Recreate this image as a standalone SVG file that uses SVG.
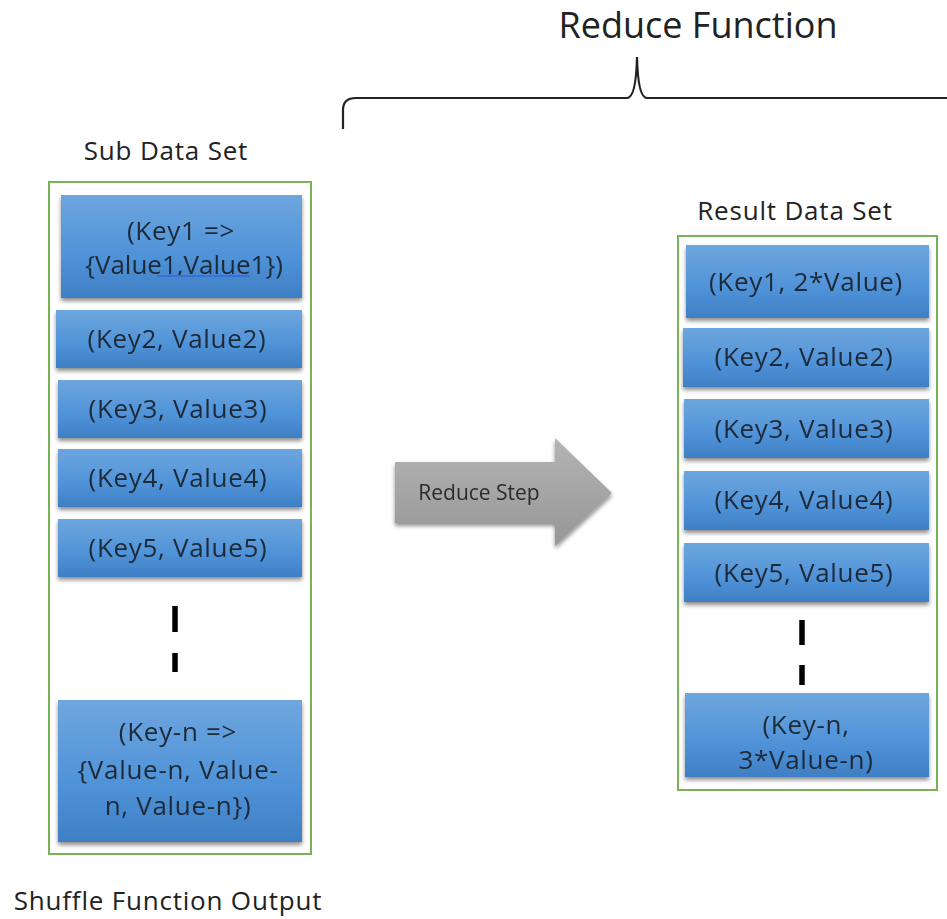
<svg xmlns="http://www.w3.org/2000/svg" width="947" height="919" viewBox="0 0 947 919">
<style>
text{font-family:"Open Sans","DejaVu Sans",sans-serif;fill:#1e2a38;text-anchor:middle}
.lbl{font-size:26px;fill:#222;letter-spacing:0.8px}
.bx{font-size:26px;letter-spacing:0.7px}
.box{fill:url(#blue)}
.cont{fill:none;stroke:#77b255;stroke-width:2}
.dash{stroke:#000;stroke-width:5.5}
</style>
<defs>
<linearGradient id="blue" x1="0" y1="0" x2="0" y2="1">
<stop offset="0" stop-color="#6ea6de"/>
<stop offset="0.6" stop-color="#4f92d8"/>
<stop offset="1" stop-color="#3f7fc4"/>
</linearGradient>
<linearGradient id="gray" x1="0" y1="0" x2="0" y2="1">
<stop offset="0" stop-color="#b4b4b4"/>
<stop offset="1" stop-color="#969696"/>
</linearGradient>
<filter id="sh" x="-10%" y="-10%" width="120%" height="130%">
<feGaussianBlur in="SourceAlpha" stdDeviation="2"/>
<feOffset dx="0" dy="3" result="b"/>
<feComponentTransfer><feFuncA type="linear" slope="0.45"/></feComponentTransfer>
<feMerge><feMergeNode/><feMergeNode in="SourceGraphic"/></feMerge>
</filter>
</defs>
<rect width="947" height="919" fill="#fff"/>

<g id="title">
<text x="698" y="38" style="font-size:36px;fill:#222">Reduce Function</text>
<path d="M343,129 L343,110 Q343,98 356,98 L627,98 Q636,98 637,57 Q638,98 647,98 L947,98" fill="none" stroke="#222" stroke-width="2.2"/>
</g>

<g id="sub-data-set">
<text class="lbl" x="166" y="160">Sub Data Set</text>
<rect class="cont" x="49" y="182" width="262" height="672"/>
</g>
<g id="s1" filter="url(#sh)">
<rect class="box" x="61" y="195" width="241" height="103"/>
<text class="bx" x="181" y="240">(Key1 =&gt;</text>
<text class="bx" x="184" y="274" style="letter-spacing:0">{Value1,Value1})</text>
<line x1="157" y1="276" x2="250" y2="276" stroke="#3a6fd8" stroke-width="2"/>
</g>
<g id="s2" filter="url(#sh)"><rect class="box" x="56" y="310" width="246" height="58"/><text class="bx" x="177" y="348">(Key2, Value2)</text></g>
<g id="s3" filter="url(#sh)"><rect class="box" x="58" y="380" width="244" height="58"/><text class="bx" x="178" y="418">(Key3, Value3)</text></g>
<g id="s4" filter="url(#sh)"><rect class="box" x="58" y="449" width="244" height="58"/><text class="bx" x="178" y="487">(Key4, Value4)</text></g>
<g id="s5" filter="url(#sh)"><rect class="box" x="58" y="519" width="244" height="58"/><text class="bx" x="178" y="557">(Key5, Value5)</text></g>
<g id="s-dots"><line class="dash" x1="175" y1="606" x2="175" y2="632"/><line class="dash" x1="175" y1="653" x2="175" y2="672"/></g>
<g id="sn" filter="url(#sh)">
<rect class="box" x="58" y="700" width="244" height="142"/>
<text class="bx" x="178" y="741">(Key-n =&gt;</text>
<text class="bx" x="178" y="779">{Value-n, Value-</text>
<text class="bx" x="178" y="815">n, Value-n})</text>
</g>
<g id="shuffle-label"><text class="lbl" x="168" y="910">Shuffle Function Output</text></g>

<g id="reduce-step" filter="url(#sh)">
<path d="M395,462 L555,462 L555,438 L612,493 L555,546 L555,523 L395,523 Z" fill="url(#gray)"/>
<text x="479" y="500" style="font-size:21px;fill:#2a2a2a">Reduce Step</text>
</g>

<g id="result-data-set">
<text class="lbl" x="795" y="220">Result Data Set</text>
<rect class="cont" x="678" y="236" width="259" height="554"/>
</g>
<g id="r1" filter="url(#sh)"><rect class="box" x="686" y="245" width="243" height="73"/><text class="bx" x="806" y="291">(Key1, 2*Value)</text></g>
<g id="r2" filter="url(#sh)"><rect class="box" x="683" y="328" width="246" height="59"/><text class="bx" x="804" y="366">(Key2, Value2)</text></g>
<g id="r3" filter="url(#sh)"><rect class="box" x="684" y="399" width="245" height="59"/><text class="bx" x="804" y="438">(Key3, Value3)</text></g>
<g id="r4" filter="url(#sh)"><rect class="box" x="684" y="471" width="245" height="59"/><text class="bx" x="804" y="509">(Key4, Value4)</text></g>
<g id="r5" filter="url(#sh)"><rect class="box" x="684" y="543" width="245" height="59"/><text class="bx" x="804" y="582">(Key5, Value5)</text></g>
<g id="r-dots"><line class="dash" x1="802" y1="620" x2="802" y2="645"/><line class="dash" x1="802" y1="665" x2="802" y2="685"/></g>
<g id="rn" filter="url(#sh)">
<rect class="box" x="685" y="693" width="244" height="84"/>
<text class="bx" x="806" y="734">(Key-n,</text>
<text class="bx" x="806" y="769">3*Value-n)</text>
</g>
</svg>
